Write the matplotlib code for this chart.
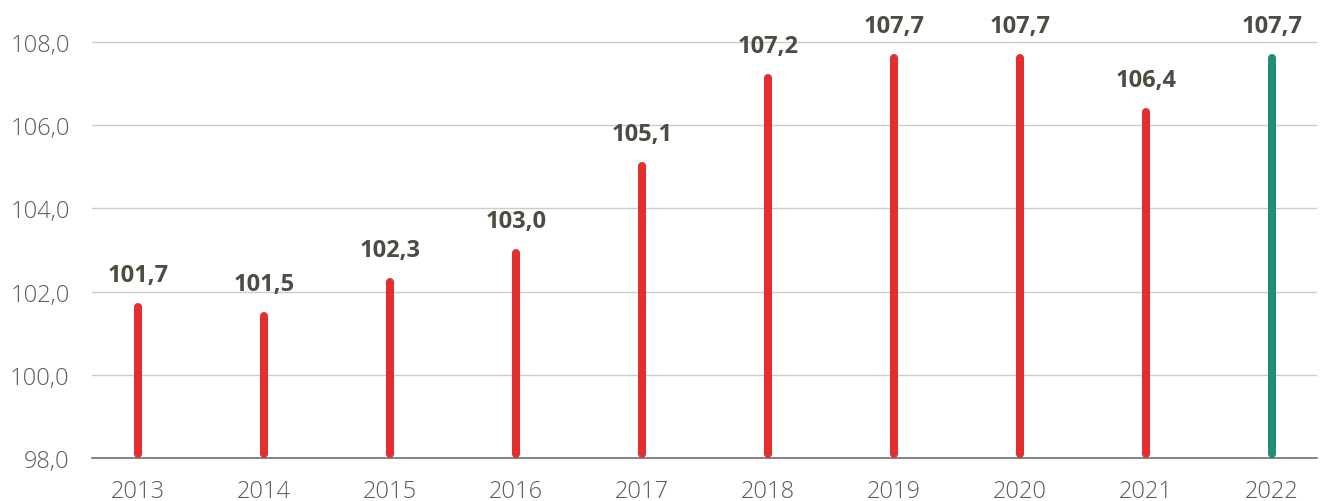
import matplotlib.pyplot as plt

years = ['2013', '2014', '2015', '2016', '2017', '2018', '2019', '2020', '2021', '2022']
values = [101.7, 101.5, 102.3, 103.0, 105.1, 107.2, 107.7, 107.7, 106.4, 107.7]
colors = ['#e3302f'] * 9 + ['#1f8f74']

plt.rcParams['font.family'] = ['Open Sans', 'DejaVu Sans']

fig = plt.figure(figsize=(13.21, 5.02), dpi=100)
ax = fig.add_axes([92 / 1321, 1 - 459 / 502, (1317 - 92) / 1321, 459 / 502])

x = list(range(len(years)))
# round caps stick out ~3px, pull the ends in a touch
ax.vlines(x, 98.1, [v - 0.08 for v in values], colors=colors, linewidth=5.8,
          capstyle='round', zorder=3)

for i, v in enumerate(values):
    ax.annotate(f'{v:.1f}'.replace('.', ','), (i, v), xytext=(0, 12), textcoords='offset points',
                ha='center', va='bottom', fontsize=17, fontweight='bold', color='#4d4b42')

ax.set_xlim(-0.365, 9.36)
ax.set_ylim(98, 109.03)
ax.set_yticks([98, 100, 102, 104, 106, 108])
ax.set_yticklabels(['98,0', '100,0', '102,0', '104,0', '106,0', '108,0'])
ax.set_xticks(x)
ax.set_xticklabels(years)
ax.tick_params(axis='y', length=0, pad=16, labelsize=17, labelcolor='#5e5c55')
ax.tick_params(axis='x', length=0, pad=15, labelsize=17, labelcolor='#5e5c55')
for lab in ax.get_yticklabels() + ax.get_xticklabels():
    lab.set_fontweight('light')

ax.grid(axis='y', color='#cccccc', linewidth=1)
ax.set_axisbelow(True)
for s in ['top', 'right', 'left']:
    ax.spines[s].set_visible(False)
ax.spines['bottom'].set_color('#707070')
ax.spines['bottom'].set_linewidth(1.2)

fig.savefig('out.png', dpi=100)
